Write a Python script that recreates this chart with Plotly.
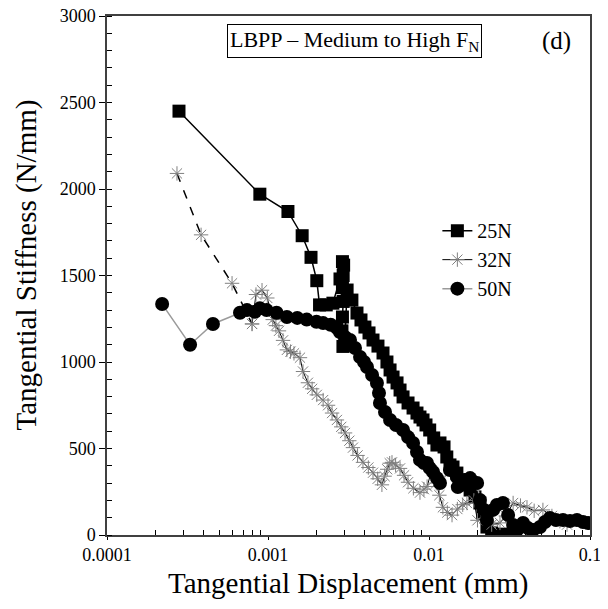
import plotly.graph_objects as go

# ---------------- data ----------------
x_25N = [2.8e-4, 8.9e-4, 1.33e-3, 1.63e-3, 1.85e-3, 2.01e-3, 2.09e-3, 2.3e-3, 2.53e-3, 2.8e-3,
         2.9e-3, 2.95e-3, 2.93e-3, 2.9e-3, 2.93e-3, 2.9e-3, 2.88e-3, 2.92e-3, 3.0e-3, 3.1e-3,
         3.32e-3, 3.57e-3, 3.78e-3, 4.00e-3, 4.24e-3, 4.49e-3, 4.82e-3, 5.18e-3, 5.48e-3, 5.73e-3,
         5.98e-3, 6.33e-3, 6.61e-3, 6.90e-3, 7.41e-3, 7.96e-3, 8.42e-3, 8.79e-3, 9.18e-3, 9.58e-3,
         1.01e-2, 1.07e-2, 1.12e-2, 1.17e-2, 1.24e-2, 1.29e-2, 1.35e-2, 1.41e-2, 1.49e-2, 1.56e-2,
         1.67e-2, 1.80e-2, 1.93e-2, 2.07e-2, 2.16e-2, 2.29e-2, 2.45e-2, 2.6e-2, 2.8e-2, 3.0e-2,
         3.2e-2, 3.4e-2]
y_25N = [2450, 1970, 1870, 1730, 1605, 1470, 1330, 1330, 1340, 1480,
         1580, 1560, 1500, 1430, 1350, 1260, 1180, 1090, 1120, 1416,
         1358, 1283, 1243, 1202, 1168, 1127, 1092, 1052, 1000, 954,
         913, 879, 838, 798, 763, 734, 705, 682, 665, 636,
         607, 561, 520, 532, 509, 451, 405, 393, 358, 318,
         289, 260, 220, 185, 127, 46, 12, 0, 5, 0,
         0, 0]

x_32N_start = [2.72e-4, 3.84e-4, 5.98e-4, 7.96e-4]
y_32N_start = [2090, 1735, 1455, 1220]

x_32N = [7.96e-4, 8.42e-4, 9.18e-4, 9.9e-4, 1.07e-3, 1.12e-3, 1.17e-3, 1.24e-3, 1.31e-3, 1.38e-3,
         1.45e-3, 1.58e-3, 1.65e-3, 1.77e-3, 1.88e-3, 2.01e-3, 2.2e-3, 2.36e-3, 2.5e-3, 2.68e-3,
         2.85e-3, 3.01e-3, 3.2e-3, 3.37e-3, 3.6e-3, 3.89e-3, 4.2e-3, 4.49e-3, 4.8e-3, 5.1e-3,
         5.3e-3, 5.5e-3, 5.7e-3, 5.89e-3, 6.2e-3, 6.61e-3, 7.0e-3, 7.41e-3, 8.0e-3, 8.79e-3,
         9.3e-3, 9.73e-3, 1.04e-2, 1.11e-2, 1.16e-2, 1.22e-2, 1.3e-2, 1.39e-2, 1.5e-2, 1.62e-2,
         1.72e-2, 1.9e-2, 2.0e-2, 2.2e-2, 2.45e-2, 2.76e-2, 3.0e-2, 3.33e-2, 3.7e-2, 4.06e-2,
         4.5e-2, 5.1e-2, 5.8e-2, 6.5e-2, 7.2e-2]
y_32N = [1220, 1390, 1415, 1370, 1245, 1210, 1180, 1125, 1070, 1060,
         1050, 1025, 945, 880, 845, 810, 780, 750, 705, 665,
         625, 590, 545, 505, 460, 420, 390, 360, 325, 290,
         340, 380, 415, 420, 405, 385, 345, 305, 270, 245,
         265, 280, 375, 300, 230, 160, 130, 115, 150, 175,
         185, 200, 85, 95, 60, 70, 110, 185, 170, 160,
         140, 145, 110, 80, 60]

x_50N = [2.2e-4, 3.28e-4, 4.55e-4, 6.7e-4, 7.4e-4, 8.3e-4, 8.9e-4, 9.8e-4, 1.13e-3, 1.31e-3,
         1.52e-3, 1.74e-3, 2.0e-3, 2.2e-3, 2.45e-3, 2.68e-3, 2.80e-3, 3.01e-3, 3.23e-3, 3.47e-3,
         3.73e-3, 3.95e-3, 4.12e-3, 4.43e-3, 4.75e-3, 4.89e-3, 4.96e-3, 5.33e-3, 5.73e-3, 6.24e-3,
         6.90e-3, 7.41e-3, 7.96e-3, 8.42e-3, 8.79e-3, 9.31e-3, 9.72e-3, 1.01e-2, 1.06e-2, 1.12e-2,
         1.17e-2, 1.35e-2, 1.49e-2, 1.51e-2, 1.67e-2, 1.80e-2, 1.99e-2, 2.07e-2, 2.20e-2, 2.29e-2,
         2.50e-2, 2.64e-2, 2.88e-2, 3.10e-2, 3.33e-2, 3.52e-2, 3.84e-2, 4.12e-2, 4.43e-2, 4.89e-2,
         5.25e-2, 5.64e-2, 6.15e-2, 6.80e-2, 7.51e-2, 8.30e-2, 9.05e-2, 9.72e-2]
y_50N = [1335, 1100, 1220, 1285, 1300, 1290, 1310, 1300, 1285, 1260,
         1255, 1245, 1232, 1225, 1215, 1196, 1173, 1144, 1127, 1081,
         1029, 1000, 971, 925, 879, 821, 763, 711, 665, 636,
         607, 566, 532, 480, 434, 416, 416, 387, 364, 329,
         301, 376, 335, 277, 318, 329, 301, 202, 145, 87,
         145, 173, 185, 116, 58, 29, 69, 40, 29, 46,
         75, 98, 87, 87, 81, 87, 75, 69]

x_tickvals = [1e-4, 1e-3, 1e-2, 1e-1]
x_ticktext = ["0.0001", "0.001", "0.01", "0.1"]
x_minor = [m * d for d in (1e-4, 1e-3, 1e-2) for m in range(2, 10)]

FONT = "Liberation Serif, Times New Roman, serif"
STAR = "#808080"

fig = go.Figure()

fig.add_trace(go.Scatter(
    x=x_25N, y=y_25N, name="25N", mode="lines+markers",
    line=dict(color="black", width=1.5),
    marker=dict(symbol="square", size=13, color="black"),
))
fig.add_trace(go.Scatter(
    x=x_32N_start, y=y_32N_start, name="32N", mode="lines+markers", showlegend=False,
    line=dict(color="black", width=1.5, dash="dash"),
    marker=dict(symbol="asterisk-open", size=12, color=STAR, line=dict(color=STAR, width=1)),
))
fig.add_trace(go.Scatter(
    x=x_32N, y=y_32N, name="32N", mode="lines+markers",
    line=dict(color="black", width=1),
    marker=dict(symbol="asterisk-open", size=12, color=STAR, line=dict(color=STAR, width=1)),
))
fig.add_trace(go.Scatter(
    x=x_50N, y=y_50N, name="50N", mode="lines+markers",
    line=dict(color="#9a9a9a", width=1.5),
    marker=dict(symbol="circle", size=14, color="black"),
))

fig.update_layout(
    width=592, height=593,
    margin=dict(l=99, r=10, t=8, b=66),
    paper_bgcolor="white", plot_bgcolor="white",
    font=dict(family=FONT, color="black", size=18),
    showlegend=True,
    legend=dict(x=0.684, y=0.624, xanchor="left", yanchor="top",
                bgcolor="rgba(0,0,0,0)", font=dict(size=20, family=FONT),
                itemwidth=30, tracegroupgap=0),
    xaxis=dict(
        type="log", range=[-4, -1], automargin=False,
        tickmode="array", tickvals=x_tickvals, ticktext=x_ticktext,
        ticks="outside", ticklen=3, tickwidth=1, tickcolor="black",
        ticklabeloverflow="allow",
        showline=True, linecolor="#404040", linewidth=1.5, mirror=True,
        showgrid=False, zeroline=False,
        minor=dict(tickmode="array", tickvals=x_minor, ticks="inside",
                   ticklen=5, tickwidth=1, tickcolor="black", showgrid=False),
        tickfont=dict(size=18, family=FONT),
    ),
    yaxis=dict(
        range=[0, 3000], dtick=500, automargin=False,
        ticks="outside", ticklen=6, tickwidth=1, tickcolor="black",
        ticklabeloverflow="allow",
        showline=True, linecolor="#404040", linewidth=1.5, mirror=True,
        showgrid=False, zeroline=False,
        minor=dict(dtick=100, ticks="inside", ticklen=5, tickwidth=1,
                   tickcolor="black", showgrid=False),
        tickfont=dict(size=18, family=FONT),
    ),
    annotations=[
        dict(text="Tangential Displacement (mm)", xref="paper", yref="paper",
             x=0.499, y=-0.093, xanchor="center", yanchor="middle", showarrow=False,
             font=dict(size=29, family=FONT)),
        dict(text="Tangential Stiffness (N/mm)", xref="paper", yref="paper",
             x=-0.167, y=0.52, xanchor="center", yanchor="middle", showarrow=False,
             textangle=-90, font=dict(size=29, family=FONT)),
        dict(text="LBPP \u2013 Medium to High F<sub>N</sub>", xref="paper", yref="paper",
             x=0.513, y=0.952, xanchor="center", yanchor="middle", showarrow=False,
             font=dict(size=22, family=FONT), bordercolor="black", borderwidth=1,
             borderpad=2, bgcolor="white"),
        dict(text="(d)", xref="paper", yref="paper", x=0.93, y=0.952,
             xanchor="center", yanchor="middle", showarrow=False,
             font=dict(size=25, family=FONT)),
    ],
)

fig.write_html("out.html")
